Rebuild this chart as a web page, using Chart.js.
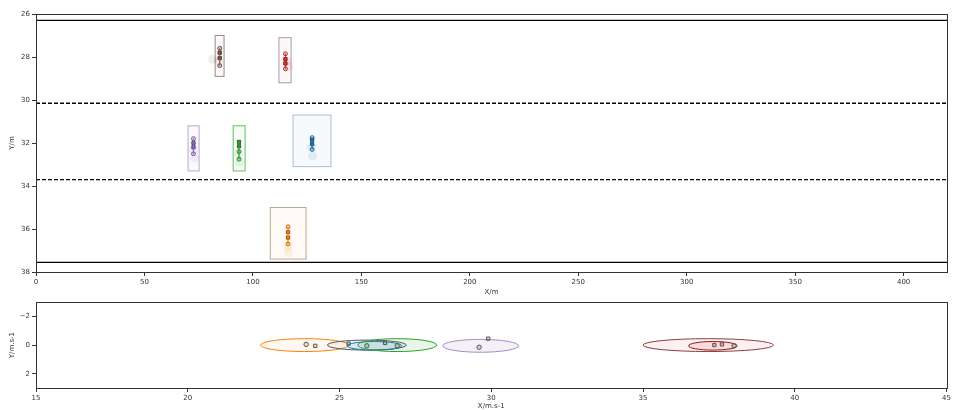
<!DOCTYPE html>
<html><head><meta charset="utf-8">
<script src="https://cdn.jsdelivr.net/npm/chart.js@4"></script>
<style>
html,body{margin:0;padding:0;background:#fff;}
#wrap{position:relative;width:953px;height:410px;overflow:hidden;}
canvas{position:absolute;left:0;}
</style></head>
<body><div id="wrap">
<canvas id="top" width="953" height="298" style="top:0"></canvas>
<canvas id="bot" width="953" height="114" style="top:296px"></canvas>
</div>
<script>
// ---- data ----
const vehColors = ['#8c564b','#d62728','#9467bd','#2ca02c','#1f77b4','#ff7f0e'];
const vehDark   = ['#4a3028','#8a1a1a','#5a4080','#1a6a1a','#104a80','#9a5000'];
const boxEdge   = ['#9a8a80','#a898b8','#b8a8d8','#60c060','#b0bccc','#b8a898'];
// position plot (X/m, Y/m)
const boxX0 = [82.6, 112.0, 70.1, 90.9, 118.5, 108.0];
const boxX1 = [86.7, 117.6, 75.2, 96.4, 136.0, 124.5];
const boxY0 = [27.0, 27.1, 31.2, 31.2, 30.7, 35.0];
const boxY1 = [28.9, 29.2, 33.3, 33.3, 33.1, 37.4];
const vehX  = [84.7, 115.0, 72.6, 93.6, 127.3, 116.2];
const squaresY = [[27.8,28.05],[28.1,28.3],[32.0,32.2],[31.95,32.15],[31.85,32.05],[36.15,36.4]];
const circlesY = [[27.6,28.4],[27.85,28.55],[31.8,32.5],[32.4,32.75],[31.75,32.3],[35.9,36.7]];
const hazeX = [[81.5,84.0],[115.5,116.5],[72.6,73.0],[93.4,93.8],[127.0,127.5],[116.2,116.4]];
const hazeY = [[28.1,28.2],[28.2,28.45],[32.3,32.7],[32.5,32.9],[32.2,32.6],[36.8,37.1]];
const laneY = [26.3, 30.15, 33.7, 37.55];
const laneDashed = [false, true, true, false];
const posXTicks = [0, 50, 100, 150, 200, 250, 300, 350, 400];
const posYTicks = [26, 28, 30, 32, 34, 36, 38];
// velocity plot (X/m.s-1, Y/m.s-1)
const ellCX = [23.85, 25.9, 26.15, 26.9, 29.65, 37.15, 37.3];
const ellCY = [0.0, 0.0, 0.05, 0.0, 0.05, 0.0, 0.05];
const ellRX = [1.45, 1.3, 0.9, 1.3, 1.25, 2.15, 0.8];
const ellRY = [0.45, 0.35, 0.3, 0.45, 0.45, 0.45, 0.3];
const ellEdge = ['#ff7f0e', '#555555', '#1f77b4', '#2ca02c', '#9f8fc0', '#8a4040', '#8a1a1a'];
const ellFill = ['rgba(255,127,14,0.06)','rgba(31,119,180,0.05)','rgba(31,119,180,0.12)','rgba(44,160,44,0.10)','rgba(148,103,189,0.10)','rgba(214,39,40,0.07)','rgba(214,39,40,0.10)'];
const velSqX = [[24.2],[26.5],[29.9],[25.3],[37.35,37.6]];
const velSqY = [[0.05],[-0.15],[-0.45],[-0.1],[0.0,-0.05]];
const velCiX = [[23.9],[26.9],[29.6],[25.9],[38.0]];
const velCiY = [[-0.05],[0.05],[0.15],[0.05],[0.05]];
const velColorIdx = [5, 3, 2, 4, 1];
const velXTicks = [15, 20, 25, 30, 35, 40, 45];
const velYTicks = [-2, 0, 2];

// ---- helpers ----
const FONT = {family:'DejaVu Sans', size:7};
const frame = {id:'frame', afterDraw(c){const a=c.chartArea,g=c.ctx;g.save();g.strokeStyle='#333';g.lineWidth=1;g.strokeRect(Math.round(a.left)+0.5,Math.round(a.top)+0.5,Math.round(a.right-a.left),Math.round(a.bottom-a.top));g.restore();}};
const boxes = {id:'boxes', beforeDatasetsDraw(c){const g=c.ctx,x=c.scales.x,y=c.scales.y;g.save();
  for(let i=0;i<boxX0.length;i++){const l=x.getPixelForValue(boxX0[i]),r=x.getPixelForValue(boxX1[i]),t=y.getPixelForValue(boxY0[i]),b=y.getPixelForValue(boxY1[i]);
    g.fillStyle=vehColors[i]+'0a';g.fillRect(l,t,r-l,b-t);g.strokeStyle=boxEdge[i];g.lineWidth=1;g.strokeRect(l,t,r-l,b-t);}
  g.restore();}};
const ellipses = {id:'ellipses', beforeDatasetsDraw(c){const g=c.ctx,x=c.scales.x,y=c.scales.y;g.save();
  for(let i=0;i<ellCX.length;i++){const px=x.getPixelForValue(ellCX[i]),py=y.getPixelForValue(ellCY[i]);
    const rx=Math.abs(x.getPixelForValue(ellCX[i]+ellRX[i])-px),ry=Math.abs(y.getPixelForValue(ellCY[i]+ellRY[i])-py);
    g.beginPath();g.ellipse(px,py,rx,ry,0,0,Math.PI*2);g.fillStyle=ellFill[i];g.fill();g.strokeStyle=ellEdge[i];g.lineWidth=1;g.stroke();}
  g.restore();}};
const minus = v => String(v).replace('-', '\u2212');
function axis(min,max,tickList,title,isX,size,reverse,titlePad){
  return {type:'linear',min,max,reverse:!!reverse,
    ticks:{color:'#333',font:FONT,padding:2,maxRotation:0,autoSkip:false,callback:v=>minus(v)},
    afterBuildTicks(s){ s.ticks = tickList.map(v=>({value:v})); },
    grid:{drawOnChartArea:false,drawTicks:true,tickLength:4,color:'#333'},
    border:{display:true,color:'#333'},
    title:{display:true,text:title,color:'#333',font:FONT,padding:titlePad},
    afterFit(s){ if(isX) s.height=size; else s.width=size; }};
}

// ---- position chart ----
const dsTop = [];
laneY.forEach((v,i)=>dsTop.push({type:'line',data:[{x:0,y:v},{x:420,y:v}],borderColor:'#000',borderWidth:1.3,borderDash:laneDashed[i]?[4,2]:[],pointRadius:0}));
vehX.forEach((vx,i)=>{
  dsTop.push({type:'scatter',data:hazeX[i].map((hx,k)=>({x:hx,y:hazeY[i][k]})),pointRadius:4.5,pointBackgroundColor:vehColors[i]+'1c',pointBorderWidth:0});
  const all=[...squaresY[i],...circlesY[i]].sort((a,b)=>a-b).map(v=>({x:vx,y:v}));
  dsTop.push({type:'line',data:all,borderColor:vehColors[i]+'88',borderWidth:1,pointRadius:0});
  dsTop.push({type:'scatter',data:circlesY[i].map(v=>({x:vx,y:v})),pointStyle:'circle',pointRadius:2,pointBackgroundColor:vehColors[i]+'44',pointBorderColor:vehDark[i]+'cc',pointBorderWidth:1});
  dsTop.push({type:'scatter',data:squaresY[i].map(v=>({x:vx,y:v})),pointStyle:'rect',pointRadius:2.3,pointBackgroundColor:vehDark[i]+'bb',pointBorderColor:vehDark[i],pointBorderWidth:1});
});
new Chart(document.getElementById('top'),{
  data:{datasets:dsTop},
  options:{responsive:false,animation:false,events:[],
    layout:{padding:{top:14,right:6,left:0,bottom:0}},
    plugins:{legend:{display:false},tooltip:{enabled:false}},
    scales:{x:axis(0,420,posXTicks,'X/m',true,26,false,{top:0,bottom:2}),
            y:axis(26,38,posYTicks,'Y/m',false,36,true,{top:8,bottom:4})}},
  plugins:[boxes,frame]
});

// ---- velocity chart ----
const dsBot = [];
velColorIdx.forEach((ci,j)=>{
  dsBot.push({type:'scatter',data:velCiX[j].map((v,k)=>({x:v,y:velCiY[j][k]})),pointStyle:'circle',pointRadius:2.2,pointBackgroundColor:vehColors[ci]+'44',pointBorderColor:'#555',pointBorderWidth:1});
  dsBot.push({type:'scatter',data:velSqX[j].map((v,k)=>({x:v,y:velSqY[j][k]})),pointStyle:'rect',pointRadius:2.3,pointBackgroundColor:vehColors[ci]+'44',pointBorderColor:'#555',pointBorderWidth:1});
});
new Chart(document.getElementById('bot'),{
  data:{datasets:dsBot},
  options:{responsive:false,animation:false,events:[],
    layout:{padding:{top:6,right:6,left:0,bottom:0}},
    plugins:{legend:{display:false},tooltip:{enabled:false}},
    scales:{x:axis(15,45,velXTicks,'X/m.s-1',true,22,false,{top:0,bottom:0}),
            y:axis(-3,3,velYTicks,'Y/m.s-1',false,36,true,{top:8,bottom:4})}},
  plugins:[ellipses,frame]
});
</script></body></html>
